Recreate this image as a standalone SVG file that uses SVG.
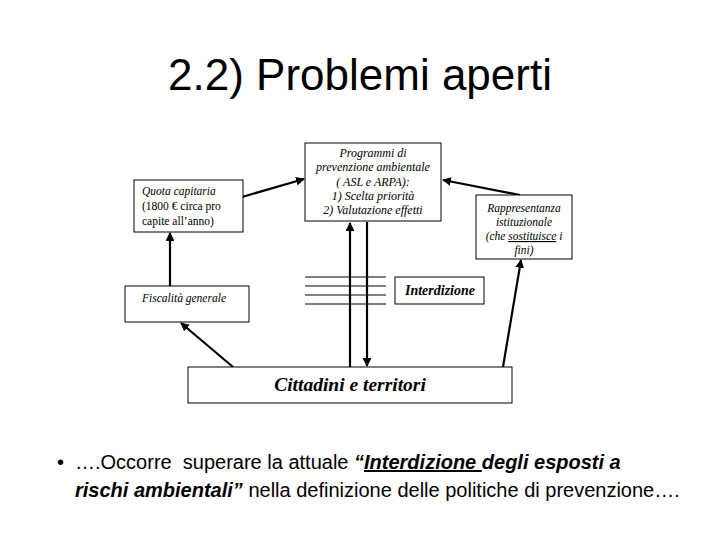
<svg xmlns="http://www.w3.org/2000/svg" width="720" height="540" viewBox="0 0 720 540">
<defs>
<marker id="ah" viewBox="0 0 10 10" refX="9" refY="5" markerWidth="4" markerHeight="4" orient="auto" markerUnits="strokeWidth">
<path d="M0,0 L10,5 L0,10 z" fill="#000"/>
</marker>
<style>
.box{fill:#fff;stroke:#000;stroke-width:1}
.t{font-family:"Liberation Serif","Times New Roman",serif;font-size:11.5px;fill:#000}
.i{font-style:italic}
.c{stroke:#000;stroke-width:2.2;fill:none}
.thin{stroke:#000;stroke-width:1;fill:none}
</style>
</defs>
<rect width="720" height="540" fill="#fff"/>
<text x="360" y="90" text-anchor="middle" font-family="Liberation Sans, Arial, sans-serif" font-size="44">2.2) Problemi aperti</text>

<g id="connectors">
<line class="thin" x1="305" y1="277" x2="386" y2="277"/>
<line class="thin" x1="305" y1="286" x2="386" y2="286"/>
<line class="thin" x1="305" y1="295" x2="386" y2="295"/>
<line class="thin" x1="305" y1="304" x2="386" y2="304"/>
<line class="c" x1="242" y1="197" x2="304" y2="179" marker-end="url(#ah)"/>
<line class="c" x1="520" y1="195" x2="443" y2="180" marker-end="url(#ah)"/>
<line class="c" x1="170" y1="286" x2="170" y2="233" marker-end="url(#ah)"/>
<line class="c" x1="233" y1="367" x2="181" y2="323" marker-end="url(#ah)"/>
<line class="c" x1="350" y1="367" x2="350" y2="223" marker-end="url(#ah)"/>
<line class="c" x1="367" y1="222" x2="367" y2="366" marker-end="url(#ah)"/>
<line class="c" x1="503" y1="367" x2="521" y2="260" marker-end="url(#ah)"/>
</g>

<g id="quota">
<rect class="box" x="134" y="180" width="109" height="52"/>
<text class="t" x="142" y="195"><tspan class="i">Quota capitaria</tspan></text>
<text class="t" x="142" y="210">(1800 € circa pro</text>
<text class="t" x="142" y="225">capite all’anno)</text>
</g>

<g id="programmi">
<rect class="box" x="305" y="143" width="136" height="78"/>
<text class="t i" text-anchor="middle" x="373" y="157" style="font-size:12px">Programmi di</text>
<text class="t i" text-anchor="middle" x="373" y="171" style="font-size:12px">prevenzione ambientale</text>
<text class="t i" text-anchor="middle" x="373" y="186" style="font-size:12px">( ASL e ARPA):</text>
<text class="t i" text-anchor="middle" x="373" y="200" style="font-size:12px">1) Scelta priorità</text>
<text class="t i" text-anchor="middle" x="373" y="214" style="font-size:12px">2) Valutazione effetti</text>
</g>

<g id="rappresentanza">
<rect class="box" x="476" y="195" width="96" height="64"/>
<text class="t i" text-anchor="middle" x="524" y="212">Rappresentanza</text>
<text class="t i" text-anchor="middle" x="524" y="226">istituzionale</text>
<text class="t i" text-anchor="middle" x="524" y="240">(che <tspan text-decoration="underline">sostituisce</tspan> i</text>
<text class="t i" text-anchor="middle" x="524" y="254">fini)</text>
</g>

<g id="fiscalita">
<rect class="box" x="125" y="286" width="124" height="36"/>
<text class="t i" x="142" y="302">Fiscalità generale</text>
</g>

<g id="interdizione">
<rect class="box" x="395" y="277" width="89" height="27"/>
<text class="t i" text-anchor="middle" x="440" y="295" style="font-size:14px;font-weight:bold">Interdizione</text>
</g>

<g id="cittadini">
<rect class="box" x="188" y="367" width="324" height="36"/>
<text class="t i" text-anchor="middle" x="350" y="391" style="font-size:19.5px;font-weight:bold">Cittadini e territori</text>
</g>

<g id="bullet" font-family="Liberation Sans, Arial, sans-serif" font-size="20">
<text x="57" y="469">•</text>
<text x="75" y="469" xml:space="preserve">….Occorre  superare la attuale <tspan font-weight="bold" font-style="italic">“<tspan text-decoration="underline">Interdizione </tspan>degli esposti a</tspan></text>
<text x="75" y="497"><tspan font-weight="bold" font-style="italic">rischi ambientali”</tspan> nella definizione delle politiche di prevenzione….</text>
</g>
</svg>
